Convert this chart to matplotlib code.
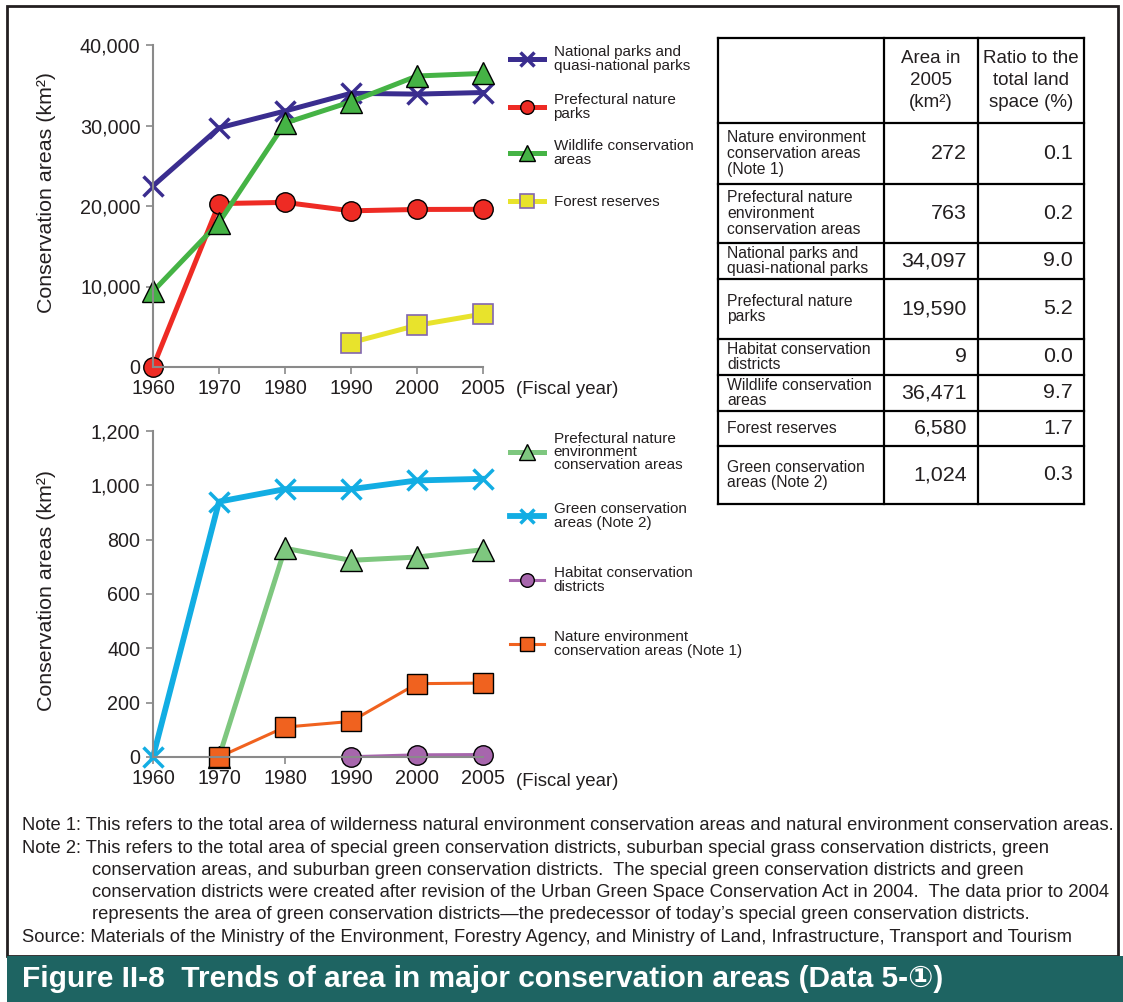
import numpy as np
import matplotlib.pyplot as plt
from matplotlib.patches import Rectangle

plt.rcParams['font.family'] = ['Liberation Sans', 'DejaVu Sans']

W, H = 1123, 1002
nan = np.nan

years = ['1960', '1970', '1980', '1990', '2000', '2005']

# upper chart (km2)
national_parks = [22500, 29700, 31800, 34000, 33900, 34097]
prefectural_parks = [0, 20300, 20450, 19400, 19570, 19590]
wildlife_areas = [9400, 17950, 30300, 32950, 36150, 36471]
forest_reserves = [nan, nan, nan, 3030, 5180, 6580]

# lower chart (km2)
pref_env_areas = [nan, 0, 768, 724, 736, 763]
green_areas = [0, 940, 986, 986, 1018, 1024]
habitat_districts = [nan, nan, nan, 1, 8, 9]
nature_env_areas = [nan, 0, 110, 131, 270, 272]

table_labels = ['Nature environment\nconservation areas\n(Note 1)',
                'Prefectural nature\nenvironment\nconservation areas',
                'National parks and\nquasi-national parks',
                'Prefectural nature\nparks',
                'Habitat conservation\ndistricts',
                'Wildlife conservation\nareas',
                'Forest reserves',
                'Green conservation\nareas (Note 2)']
table_area = ['272', '763', '34,097', '19,590', '9', '36,471', '6,580', '1,024']
table_ratio = ['0.1', '0.2', '9.0', '5.2', '0.0', '9.7', '1.7', '0.3']

notes = ['Note 1: This refers to the total area of wilderness natural environment conservation areas and natural environment conservation areas.',
         'Note 2: This refers to the total area of special green conservation districts, suburban special grass conservation districts, green',
         'conservation areas, and suburban green conservation districts.  The special green conservation districts and green',
         'conservation districts were created after revision of the Urban Green Space Conservation Act in 2004.  The data prior to 2004',
         'represents the area of green conservation districts\u2014the predecessor of today\u2019s special green conservation districts.',
         'Source: Materials of the Ministry of the Environment, Forestry Agency, and Ministry of Land, Infrastructure, Transport and Tourism']
note_indent = [False, False, True, True, True, False]

txt = '#231f20'
fig = plt.figure(figsize=(W / 100, H / 100), dpi=100)

# overlay in pixel coordinates for frame, table, notes and title
ov = fig.add_axes([0, 0, 1, 1])
ov.set_xlim(0, W)
ov.set_ylim(H, 0)
ov.axis('off')
ov.add_patch(Rectangle((7, 6), 1111, 950, fill=False, lw=2, ec=txt))
ov.add_patch(Rectangle((7, 956), 1116, 46, color='#1e6462', lw=0))
ov.text(22, 979, 'Figure II-8  Trends of area in major conservation areas (Data 5-\u2460)',
        color='white', fontsize=21.5, fontweight='bold', va='center')

for i, line in enumerate(notes):
    ov.text(92 if note_indent[i] else 22, 826 + i * 22.2, line, fontsize=13.2, color=txt, va='center')

# table
col_x = [718, 884, 978, 1084]
row_y = [38, 123, 184, 243, 279, 339, 375, 411, 446, 504]
for xx in col_x:
    ov.plot([xx, xx], [row_y[0], row_y[-1]], color='black', lw=1.6)
for y in row_y:
    ov.plot([col_x[0], col_x[-1]], [y, y], color='black', lw=1.6)
hy = (row_y[0] + row_y[1]) / 2
ov.text((col_x[1] + col_x[2]) / 2, hy, 'Area in\n2005\n(km\u00b2)', ha='center', va='center',
        fontsize=13.5, color=txt, linespacing=1.35)
ov.text((col_x[2] + col_x[3]) / 2, hy, 'Ratio to the\ntotal land\nspace (%)', ha='center', va='center',
        fontsize=13.5, color=txt, linespacing=1.35)
for i in range(len(table_labels)):
    cy = (row_y[i + 1] + row_y[i + 2]) / 2
    ov.text(727, cy, table_labels[i], fontsize=11.3, color=txt, va='center', linespacing=1.08)
    ov.text(967, cy, table_area[i], fontsize=15.4, color=txt, va='center', ha='right')
    ov.text(1073, cy, table_ratio[i], fontsize=15.4, color=txt, va='center', ha='right')


def style_axis(ax, ymax, step, label_y):
    ax.set_xlim(0, 5)
    ax.set_ylim(0, ymax)
    ax.set_xticks(range(len(years)))
    ax.set_xticklabels(years)
    ax.set_yticks(np.arange(0, ymax + 1, step))
    ax.yaxis.set_major_formatter(lambda v, p: f'{v:,.0f}')
    ax.spines['top'].set_visible(False)
    ax.spines['right'].set_visible(False)
    for s in ['left', 'bottom']:
        ax.spines[s].set_color('#8a8a8a')
        ax.spines[s].set_linewidth(1.5)
    ax.tick_params(colors='#8a8a8a', labelcolor=txt, labelsize=14.2, length=5, width=1.2, pad=4)
    ax.set_facecolor('none')
    ax.set_ylabel('Conservation areas (km\u00b2)', fontsize=15.4, color=txt)
    ax.yaxis.set_label_coords(-0.295, label_y)


def add_key(line, label, y):
    leg = fig.legend([line], [label], loc='center left', bbox_to_anchor=(510 / W, 1 - y / H),
                     frameon=False, borderpad=0, borderaxespad=0, handlelength=2.2,
                     handletextpad=0.65, fontsize=11, markerscale=0.7)
    for t in leg.get_texts():
        t.set_linespacing(0.95)
        t.set_color(txt)


x = np.arange(len(years))

# upper chart
ax1 = fig.add_axes([153 / W, 1 - 367 / H, 330 / W, 322 / H])
l1, = ax1.plot(x, national_parks, color='#3a2d8f', lw=3.6, marker='x', ms=14, mew=2.5, clip_on=False)
l2, = ax1.plot(x, prefectural_parks, color='#ee2b24', lw=3.6, marker='o', ms=14, mec='black', mew=1, clip_on=False)
l3, = ax1.plot(x, wildlife_areas, color='#45b345', lw=3.6, marker='^', ms=16, mec='black', mew=1, clip_on=False)
l4, = ax1.plot(x, forest_reserves, color='#e8e32c', lw=3.6, marker='s', ms=14, mec='#8266b0', mew=1.2, clip_on=False)
style_axis(ax1, 40000, 10000, 0.543)
ov.text(516, 390, '(Fiscal year)', fontsize=13.4, color=txt, va='center')

add_key(l1, 'National parks and\nquasi-national parks', 59)
add_key(l2, 'Prefectural nature\nparks', 107)
add_key(l3, 'Wildlife conservation\nareas', 153)
add_key(l4, 'Forest reserves', 202)

# lower chart
ax2 = fig.add_axes([153 / W, 1 - 757 / H, 330 / W, 326 / H])
m2, = ax2.plot(x, green_areas, color='#12ade3', lw=4.2, marker='x', ms=14, mew=2.5, clip_on=False)
m1, = ax2.plot(x, pref_env_areas, color='#7ec77f', lw=3.6, marker='^', ms=16, mec='black', mew=1, clip_on=False)
m4, = ax2.plot(x, nature_env_areas, color='#f0621f', lw=2.2, marker='s', ms=14, mec='black', mew=1, clip_on=False)
m3, = ax2.plot(x, habitat_districts, color='#a766ad', lw=2.2, marker='o', ms=14, mec='black', mew=1, clip_on=False)
style_axis(ax2, 1200, 200, 0.512)
ov.text(516, 782, '(Fiscal year)', fontsize=13.4, color=txt, va='center')

add_key(m1, 'Prefectural nature\nenvironment\nconservation areas', 452)
add_key(m2, 'Green conservation\nareas (Note 2)', 516)
add_key(m3, 'Habitat conservation\ndistricts', 580)
add_key(m4, 'Nature environment\nconservation areas (Note 1)', 644)

plt.savefig('out.png', dpi=100)
